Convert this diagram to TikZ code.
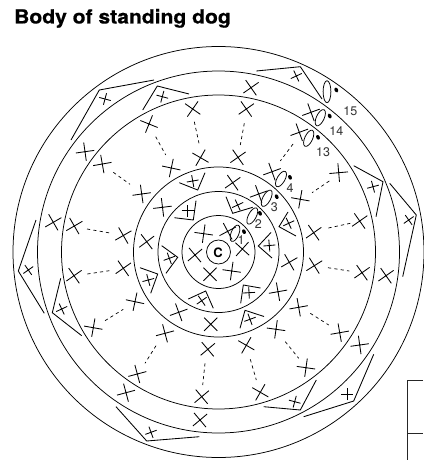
\documentclass[tikz,border=0pt]{standalone}
\usepackage{fontspec}
\setmainfont{TeX Gyre Heros}
\newfontfamily\ttlfont[FakeBold=0.5]{TeX Gyre Heros Bold}
\definecolor{lab}{gray}{0.2}
\newcommand{\xm}[3]{\draw[stitch,shift={(#1,-#2)},rotate=#3] (-9.3,0) -- (9.3,0) (0,-9.3) -- (0,9.3);}
\newcommand{\vm}[9]{\draw[stitch] (#1,-#2) -- (#3,-#4) -- (#5,-#6); \draw[stitch,shift={(#7,-#8)},rotate=#9] (-6,0) -- (6,0) (0,-6) -- (0,6);}
\newcommand{\ov}[6]{\draw[ring] (#1,-#2) ellipse[x radius=3.9,y radius=#4,rotate=#3];\fill[black] (#5,-#6) ellipse[x radius=1.8,y radius=2.5,rotate=25];}
\tikzset{stitch/.style={line width=0.85pt,black},ring/.style={line width=0.75pt,black},
 dashline/.style={line width=0.7pt,dash pattern=on 3.2pt off 3.2pt,black},numlab/.style={inner sep=0,font=\fontsize{12.5}{14}\selectfont,text=lab}}
\begin{document}
\begin{tikzpicture}[x=1pt,y=1pt]
\useasboundingbox (0,0) rectangle (423,-460);
\node[anchor=base west,inner sep=0,xscale=1.08,font=\ttlfont\fontsize{19.5}{22}\selectfont] (title) at (14,-23.5) {Body of standing dog};
\coordinate (o) at (218.5,-252);
\foreach \r in {205.5,181,157,85,60.5,36.5,12}{\draw[ring] (o) circle[radius=\r];}
\node[inner sep=0,font=\bfseries\fontsize{13}{14}\selectfont] (cc) at (218,-252.5) {C};
% ring 1
\xm{203.7}{233.7}{-8}\xm{227.7}{231.3}{28}\xm{242.3}{249}{48}\xm{231.7}{271}{-8}\xm{210}{274.3}{45}\xm{195}{255}{40}
% ring 2
\vm{226}{196.7}{232.7}{213.3}{252.7}{207.3}{237.7}{205}{25}
\vm{174.3}{217.7}{193.3}{220}{196}{200.7}{187.7}{210.7}{0}
\vm{161.7}{245.7}{177.7}{257.3}{166}{273.3}{169.3}{258.3}{20}
\vm{188.3}{299}{205.7}{291}{213.3}{308.3}{201.7}{300.7}{35}
\vm{240.7}{303.3}{243.3}{285}{260.5}{288}{249}{292.7}{3}
\vm{272}{258}{258.3}{246}{271}{232.5}{269.3}{245.5}{5}
% ring 3
\xm{162.5}{207.3}{7}\vm{179.3}{182.7}{197.7}{190}{205}{172.7}{192.7}{181}{10}
\xm{232.7}{182.7}{35}\xm{258.7}{194}{20}
\vm{288}{212}{279}{226.7}{296}{236}{288.7}{223.3}{25}
\xm{289.3}{262.3}{30}\xm{278}{291.7}{10}
\vm{240}{328.3}{245}{310.3}{264}{316.5}{250}{319.3}{20}
\xm{210.7}{324.3}{45}\xm{178.7}{312.3}{20}
\vm{140}{267.7}{157.7}{274}{150.7}{293.3}{148.3}{280}{15}
\xm{146.7}{241.7}{37}
% ring 4
\xm{192.7}{109}{-35}\xm{200.5}{157.7}{-30}\draw[dashline] (194.3,-121.7) -- (199,-143.3);
\xm{149}{124}{-22}\xm{171.3}{168}{-12}\draw[dashline] (155.7,-136.7) -- (165.7,-155);
\xm{246.3}{109}{35}\xm{238}{157.3}{35}\draw[dashline] (244.3,-123.3) -- (240.3,-145);
\xm{299.3}{132.3}{20}\xm{272}{171.7}{20}\draw[dashline] (293,-144) -- (280.3,-161);
\xm{338.7}{172.7}{5}\xm{300.3}{199.3}{-10}\draw[dashline] (329.3,-181) -- (312,-192.7);
\xm{359.7}{221}{35}\xm{313.7}{232.7}{35}\draw[dashline] (350.3,-223.3) -- (327,-228.3);
\xm{362}{272.7}{35}\xm{314.3}{265.7}{32}\draw[dashline] (328,-267.7) -- (349.3,-271);
\xm{339.7}{332.7}{10}\xm{298.7}{307.3}{10}\draw[dashline] (310.3,-313.3) -- (328.7,-325);
\xm{306}{367.7}{-8}\xm{276}{329.3}{-8}\draw[dashline] (285.3,-341.7) -- (298.7,-358.3);
\xm{260.3}{392.3}{-30}\xm{246.3}{345.3}{-30}\draw[dashline] (250.3,-359.3) -- (256.3,-380);
\xm{201.7}{396.7}{40}\xm{207.8}{349.3}{40}\draw[dashline] (205,-363.3) -- (202.7,-385);
\xm{137.3}{374}{15}\xm{165}{333.3}{15}\draw[dashline] (156,-345.7) -- (145,-363.3);
\xm{93.3}{327.7}{-10}\xm{135}{301.7}{-12}\draw[dashline] (105,-320.7) -- (123.3,-309.3);
\xm{74}{275.7}{35}\xm{123.3}{268.3}{35}\draw[dashline] (87.3,-274) -- (109.3,-270.7);
\xm{123.3}{235.5}{30}\xm{74.3}{226}{30}\draw[dashline] (87,-229) -- (110,-233);
\xm{102.3}{164}{10}\xm{141.7}{194}{8}\draw[dashline] (113.3,-172.3) -- (130,-184.3);
% ring 5
\xm{85}{151.7}{8}\xm{53.3}{222.3}{30}\xm{251}{87.7}{35}\xm{311}{112.3}{20}\xm{386}{275.7}{35}\xm{359.7}{345}{8}\xm{200}{420}{40}\xm{126}{392.7}{15}
\vm{142.7}{110}{157.3}{86}{189}{94}{162.3}{96.7}{-15}
\vm{353.7}{165.7}{383}{181.7}{376}{216.7}{373}{186.7}{15}
\vm{316.3}{380}{300.3}{410}{263.7}{406.7}{294.7}{401.7}{-15}
\vm{60.7}{278.3}{52.3}{312.7}{81.7}{335.7}{61.7}{309}{25}
% ring 6
\vm{71}{140}{99.3}{90}{154}{80}{105}{99}{-15}
\vm{256.3}{71}{300.3}{66.7}{322}{99}{296.3}{76}{25}
\vm{389.7}{183.3}{416.3}{215}{402.7}{276.7}{408.7}{220}{35}
\vm{373.7}{354.3}{353.7}{401}{303.7}{416.7}{347}{394.3}{0}
\vm{116}{406.7}{146.7}{441}{199.3}{436.7}{151}{432.3}{20}
\vm{36}{220}{18.3}{271}{44.3}{313.3}{28.3}{270}{35}
% increase ovals
\ov{235}{233.3}{-22}{8.7}{244}{231.7}
\ov{252.3}{216}{-28}{9}{260}{213.3}
\ov{266.7}{198.3}{-28}{9}{276.7}{196.7}
\ov{281}{179}{-30}{8.7}{290}{177.3}
\ov{308.7}{138.3}{-25}{8.8}{318}{137.3}
\ov{320.3}{117.7}{-25}{8.8}{329.7}{116}
\ov{327}{91.7}{0}{11}{336.3}{90}
\foreach \n/\x/\y/\t in {a/241/240/1,b/258.3/224/2,c/274.3/207.3/3,d/290/188.3/4,e/323/151.7/13,f/336.3/130.7/14,g/350.3/111/15}{\node[numlab] (n\n) at (\x,-\y) {\t};}
% table corner
\draw[line width=0.6pt,black!85] (423,-380.7) -- (407.7,-380.7) -- (407.7,-460) (407.7,-433.3) -- (423,-433.3);
\end{tikzpicture}
\end{document}
